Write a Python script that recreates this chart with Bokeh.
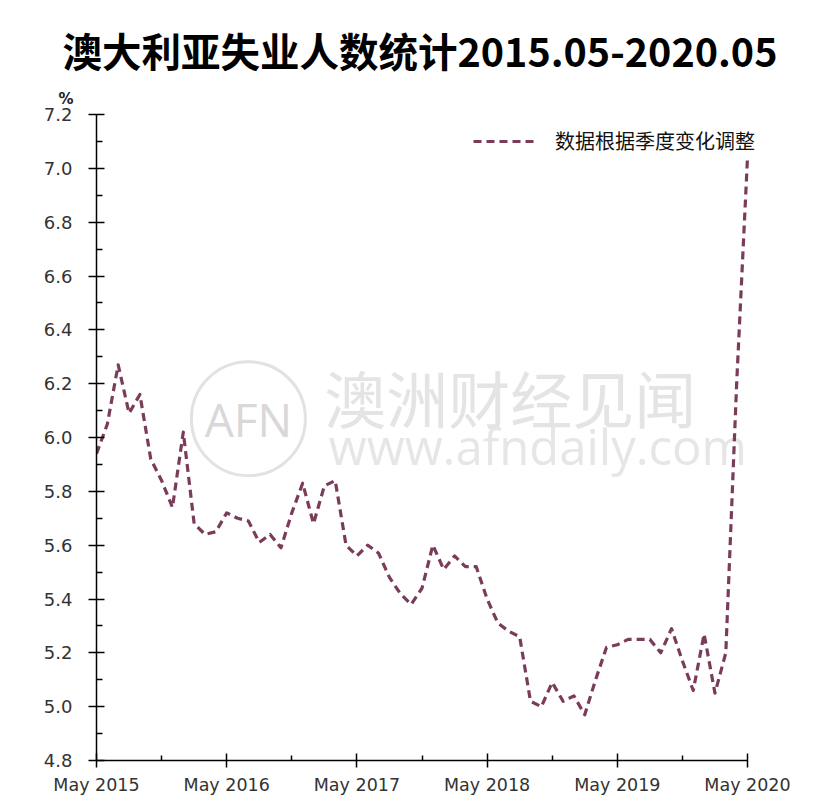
from bokeh.plotting import figure
from bokeh.models import FixedTicker, Legend, LegendItem, Range1d, Title
from bokeh.core.properties import value
from bokeh.embed import file_html
from bokeh.resources import INLINE

# ---- data ----
title_text = "澳大利亚失业人数统计2015.05-2020.05"
series_name = "数据根据季度变化调整"
# monthly, May 2015 .. May 2020 (61 months), unemployment rate %
months = list(range(61))
rate = [5.94, 6.05, 6.27, 6.09, 6.16, 5.92, 5.84, 5.74, 6.02, 5.68,
        5.64, 5.65, 5.72, 5.70, 5.69, 5.61, 5.64, 5.59, 5.72, 5.83,
        5.68, 5.82, 5.84, 5.60, 5.56, 5.60, 5.57, 5.48, 5.42, 5.38,
        5.44, 5.60, 5.51, 5.56, 5.52, 5.52, 5.40, 5.31, 5.28, 5.26,
        5.02, 5.00, 5.09, 5.02, 5.04, 4.97, 5.10, 5.22, 5.23, 5.25,
        5.25, 5.25, 5.20, 5.29, 5.17, 5.06, 5.27, 5.05, 5.20, 6.20,
        7.04]
x_ticks = [0, 12, 24, 36, 48, 60]
x_tick_labels = ["May 2015", "May 2016", "May 2017", "May 2018", "May 2019", "May 2020"]
x_minor = [6, 18, 30, 42, 54]
y_ticks = [4.8, 5.0, 5.2, 5.4, 5.6, 5.8, 6.0, 6.2, 6.4, 6.6, 6.8, 7.0, 7.2]
y_minor = [4.9, 5.1, 5.3, 5.5, 5.7, 5.9, 6.1, 6.3, 6.5, 6.7, 6.9, 7.1]
y_unit = "%"

LINE_COLOR = "#7a3c5a"
TICK_FONT = "DejaVu Sans"
CJK = "Noto Sans CJK SC"

p = figure(frame_width=694, frame_height=646,
           min_border_left=96, min_border_right=22,
           min_border_top=114, min_border_bottom=45,
           x_range=Range1d(0, 63.963), y_range=Range1d(4.8, 7.2),
           output_backend="svg", toolbar_location=None,
           background_fill_color="white", border_fill_color="white")
p.outline_line_color = None
p.xgrid.visible = False
p.ygrid.visible = False

# ---- watermark ----
p.scatter(x=[14.0], y=[6.07], size=114, fill_color=None,
          line_color="#e2e2e2", line_width=3)
p.text(x=[14.0], y=[6.07], text=["AFN"], text_align="center",
       text_baseline="middle", text_font=value("Open Sans"),
       text_font_size="46px", text_color="#d8d8d8")
p.text(x=[21.0], y=[6.15], text=["澳洲财经见闻"], text_align="left",
       text_baseline="middle", text_font=value(CJK),
       text_font_size="62px", text_color="#e4e4e4")
p.text(x=[21.4], y=[5.97], text=["www.afndaily.com"], text_align="left",
       text_baseline="middle", text_font=value("Open Sans"),
       text_font_size="49px", text_color="#e6e6e6")

# ---- data line ----
r = p.line(months, rate, line_color=LINE_COLOR, line_width=3.2,
           line_dash="8 5", line_join="round")

# ---- axes ----
xa = p.xaxis[0]
xa.bounds = (0, 60)
xa.ticker = FixedTicker(ticks=x_ticks, minor_ticks=x_minor)
xa.major_label_overrides = {t: l for t, l in zip(x_ticks, x_tick_labels)}
xa.axis_line_color = "black"
xa.axis_line_width = 1.5
xa.major_tick_line_color = "black"
xa.major_tick_line_width = 1.5
xa.major_tick_in = 7
xa.major_tick_out = 7
xa.minor_tick_line_color = "black"
xa.minor_tick_line_width = 1.5
xa.minor_tick_in = 5
xa.minor_tick_out = 0
xa.major_label_text_font = TICK_FONT
xa.major_label_text_font_size = "17.5px"
xa.major_label_text_color = "#333333"
xa.major_label_standoff = 7

ya = p.yaxis[0]
ya.ticker = FixedTicker(ticks=y_ticks, minor_ticks=y_minor)
ya.major_label_overrides = {t: f"{t:.1f}" for t in y_ticks}
ya.axis_line_color = "black"
ya.axis_line_width = 1.5
ya.major_tick_line_color = "black"
ya.major_tick_line_width = 1.5
ya.major_tick_in = 8
ya.major_tick_out = 8
ya.minor_tick_line_color = "black"
ya.minor_tick_line_width = 1.5
ya.minor_tick_in = 6
ya.minor_tick_out = 0
ya.major_label_text_font = TICK_FONT
ya.major_label_text_font_size = "18px"
ya.major_label_text_color = "#333333"
ya.major_label_standoff = 16

# ---- legend ----
legend = Legend(items=[LegendItem(label=series_name, renderers=[r])],
                location=(377, 605), orientation="vertical",
                glyph_width=65, glyph_height=20, label_standoff=17,
                label_text_font=CJK, label_text_font_size="20px",
                label_text_color="#111111", border_line_color=None,
                background_fill_alpha=0, padding=0, margin=0)
p.add_layout(legend)

# ---- unit and title (above the frame) ----
p.add_layout(Title(text=y_unit, align="left", offset=-38, standoff=14,
                   text_font=TICK_FONT, text_font_size="15px",
                   text_font_style="bold", text_color="#222222"), "above")
p.add_layout(Title(text=title_text, align="left", offset=-34, standoff=6,
                   text_font=CJK, text_font_size="39.5px",
                   text_font_style="bold", text_color="black"), "above")

open("out.html", "w").write(file_html(p, INLINE))
